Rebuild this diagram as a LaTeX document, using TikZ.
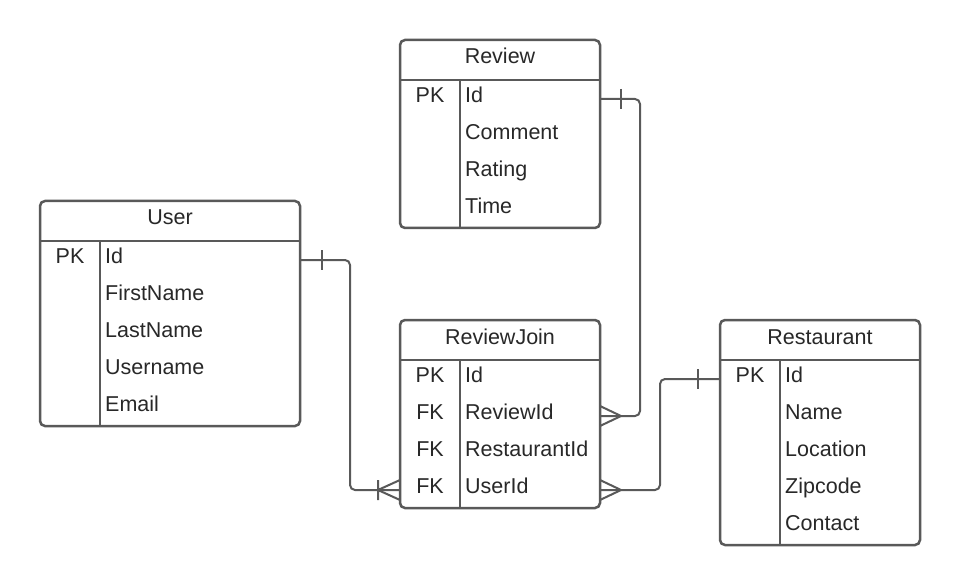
\documentclass[tikz,border=0pt]{standalone}
\usepackage{fontspec}
\setmainfont{Liberation Sans}
\usetikzlibrary{calc}
\definecolor{erline}{HTML}{595959}
\definecolor{ertext}{HTML}{282828}

\begin{document}
\begin{tikzpicture}[
  x=1pt,
  y=-1pt,
  font=\fontsize{21.5}{25}\selectfont,
  table/.style={
    draw=erline,
    line width=2.5pt,
    rounded corners=5pt,
    inner sep=0pt,
    outer sep=0pt,
    anchor=north west
  },
  tableline/.style={draw=erline, line width=2.5pt},
  cell/.style={text=ertext, inner sep=0pt, text height=15pt, text depth=8pt},
  head/.style={cell, anchor=base},
  keycell/.style={cell, anchor=base},
  field/.style={cell, anchor=base west},
  rel/.style={draw=erline, line width=2pt, rounded corners=5pt},
  relend/.style={draw=erline, line width=2pt}
]
\fill[white] (0,0) rectangle (960,585);
\useasboundingbox (0,0) rectangle (960,585);

% Review
\node[table, minimum width=200pt, minimum height=188pt] (review) at (400,40) {};
\draw[tableline] (400,80) -- (600,80) (460,80) -- (460,228);
\node[head] (review-h) at (500,64) {Review};
\node[keycell] (review-k1) at (430,102.5) {PK};
\foreach \f [count=\i] in {Id,Comment,Rating,Time}
  \node[field] (review-\i) at (465,{65.5+37*\i}) {\f};

% User
\node[table, minimum width=260pt, minimum height=225pt] (user) at (40,201) {};
\draw[tableline] (40,241) -- (300,241) (100,241) -- (100,426);
\node[head] (user-h) at (170,225) {User};
\node[keycell] (user-k1) at (70,263.5) {PK};
\foreach \f [count=\i] in {Id,FirstName,LastName,Username,Email}
  \node[field] (user-\i) at (105,{226.5+37*\i}) {\f};

% ReviewJoin
\node[table, minimum width=200pt, minimum height=188pt] (rj) at (400,320) {};
\draw[tableline] (400,360) -- (600,360) (460,360) -- (460,508);
\node[head] (rj-h) at (500,344) {ReviewJoin};
\foreach \k [count=\i] in {PK,FK,FK,FK}
  \node[keycell] (rj-k\i) at (430,{345.5+37*\i}) {\k};
\foreach \f [count=\i] in {Id,ReviewId,RestaurantId,UserId}
  \node[field] (rj-\i) at (465,{345.5+37*\i}) {\f};

% Restaurant
\node[table, minimum width=200pt, minimum height=225pt] (rest) at (720,320) {};
\draw[tableline] (720,360) -- (920,360) (780,360) -- (780,545);
\node[head] (rest-h) at (820,344) {Restaurant};
\node[keycell] (rest-k1) at (750,382.5) {PK};
\foreach \f [count=\i] in {Id,Name,Location,Zipcode,Contact}
  \node[field] (rest-\i) at (785,{345.5+37*\i}) {\f};

% relations
\draw[rel] (user.east |- user-1) -| (350,450) |- (rj.west |- rj-4);
\draw[rel] (review.east |- review-1) -| (640,300) |- (rj.east |- rj-2);
\draw[rel] (rest.west |- rest-1) -| (660,450) |- (rj.east |- rj-4);

% one ends
\draw[relend] ([xshift=22pt]user.east |- user-1) ++(0,-10) -- ++(0,20);
\draw[relend] ([xshift=21pt]review.east |- review-1) ++(0,-10) -- ++(0,20);
\draw[relend] ([xshift=-22pt]rest.west |- rest-1) ++(0,-10) -- ++(0,20);

% many ends
\draw[relend] ([xshift=-22pt]rj.west |- rj-4) ++(0,-10) -- ++(0,20)
  ++(0,-10) -- ++(22,-10) ++(-22,10) -- ++(22,10);
\draw[relend] ([xshift=21pt]rj.east |- rj-2) -- ++(-21,-10) ++(21,10) -- ++(-21,10);
\draw[relend] ([xshift=21pt]rj.east |- rj-4) -- ++(-21,-10) ++(21,10) -- ++(-21,10);
\end{tikzpicture}
\end{document}
